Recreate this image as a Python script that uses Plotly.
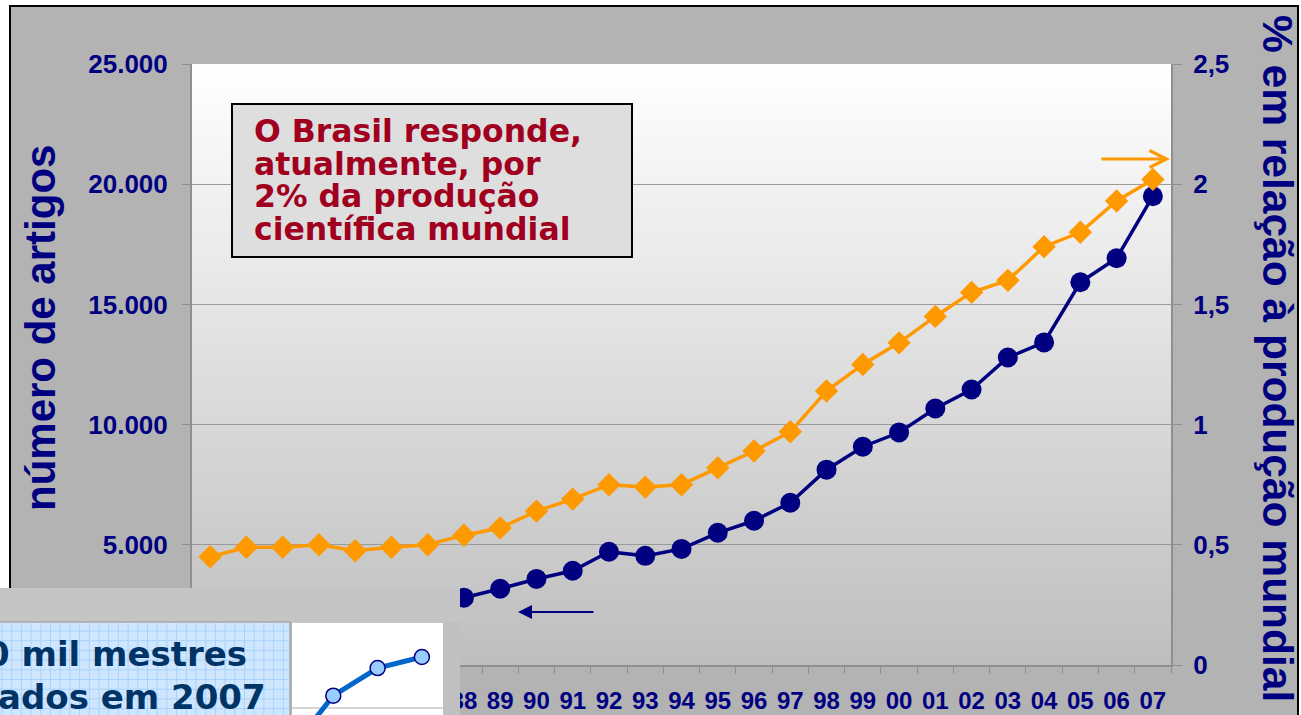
import plotly.graph_objects as go

# ---------------- data ----------------
years = ['81', '82', '83', '84', '85', '86', '87', '88', '89', '90', '91', '92', '93', '94',
         '95', '96', '97', '98', '99', '00', '01', '02', '03', '04', '05', '06', '07']
artigos = [1900, 2000, 2100, 2200, 2300, 2450, 2600, 2800, 3170, 3580, 3920, 4710, 4540, 4830,
           5500, 6000, 6750, 8125, 9080, 9670, 10670, 11460, 12790, 13420, 15920, 16920, 19500]
percentual = [0.45, 0.49, 0.49, 0.50, 0.475, 0.49, 0.50, 0.54, 0.57, 0.64, 0.69, 0.75, 0.74, 0.75,
              0.82, 0.89, 0.97, 1.14, 1.25, 1.34, 1.45, 1.55, 1.60, 1.74, 1.80, 1.93, 2.02]
left_ticks = [0, 5000, 10000, 15000, 20000, 25000]
right_ticks = [0, 0.5, 1, 1.5, 2, 2.5]

inset_x = [0, 1, 2, 3]
inset_y = [16.0, 22.1, 25.1, 26.3]

box_lines = ["O Brasil responde,", "atualmente, por", "2% da produção", "científica mundial"]
inset_lines = ["0 mil mestres", "ados em 2007"]

# ---------------- helpers ----------------
W, H = 1301, 715
def px(x):
    return x / W
def py(y):
    return 1 - y / H

NAVY = "#000080"
ORANGE = "#ff9900"

fig = go.Figure()

fig.add_trace(go.Scatter(
    x=years, y=artigos, mode="lines+markers", yaxis="y", xaxis="x",
    line=dict(color=NAVY, width=3.5),
    marker=dict(symbol="circle", size=20, color=NAVY),
    showlegend=False, hoverinfo="skip"))

fig.add_trace(go.Scatter(
    x=years, y=percentual, mode="lines+markers", yaxis="y2", xaxis="x",
    line=dict(color=ORANGE, width=3.5),
    marker=dict(symbol="diamond", size=18, color=ORANGE),
    showlegend=False, hoverinfo="skip"))

fig.add_trace(go.Scatter(
    x=inset_x, y=inset_y, mode="lines+markers", xaxis="x3", yaxis="y3",
    line=dict(color="#0066cc", width=5),
    marker=dict(symbol="circle", size=15, color="#99ccff", line=dict(color=NAVY, width=1.5)),
    showlegend=False, hoverinfo="skip"))

shapes = []
# outer gray panel with black border
shapes.append(dict(type="rect", xref="paper", yref="paper", layer="below",
                   x0=px(10), x1=px(1298), y0=py(745), y1=py(6),
                   fillcolor="#b3b3b3", line=dict(color="black", width=2)))
# gradient plot background
top, bot = 64, 665
N = 100
for i in range(N):
    ya = top + (bot - top) * i / N
    yb = top + (bot - top) * (i + 1) / N + 0.8
    t = (i + 0.5) / N
    g = int(round(255 - (255 - 190) * t))
    shapes.append(dict(type="rect", xref="paper", yref="paper", layer="below",
                       x0=px(192), x1=px(1171), y0=py(min(yb, bot)), y1=py(ya),
                       fillcolor=f"rgb({g},{g},{g})", line=dict(width=0)))
# text box
shapes.append(dict(type="rect", xref="paper", yref="paper", layer="above",
                   x0=px(232), x1=px(632), y0=py(257), y1=py(104),
                   fillcolor="#dedede", line=dict(color="black", width=2)))
# inset overlay (lower-left)
shapes.append(dict(type="rect", xref="paper", yref="paper", layer="above",
                   x0=px(-5), x1=px(460), y0=py(623), y1=py(588),
                   fillcolor="#c4c4c4", line=dict(width=0)))
shapes.append(dict(type="rect", xref="paper", yref="paper", layer="above",
                   x0=px(443), x1=px(460), y0=py(720), y1=py(622),
                   fillcolor="#c0c0c0", line=dict(width=0)))
shapes.append(dict(type="rect", xref="paper", yref="paper", layer="above",
                   x0=px(289), x1=px(292), y0=py(720), y1=py(622),
                   fillcolor="#b4b4b4", line=dict(width=0)))
shapes.append(dict(type="rect", xref="paper", yref="paper", layer="above",
                   x0=px(-5), x1=px(290), y0=py(720), y1=py(622),
                   fillcolor="#cfe6ff", line=dict(color="#a8a8a8", width=1.5)))
# grid of the blue box
path = ""
gx = 2.0
while gx < 289:
    path += f"M{px(gx):.5f},{py(623):.5f}L{px(gx):.5f},{py(715):.5f}"
    gx += 9.7
gy = 631.0
while gy < 715:
    path += f"M{px(0):.5f},{py(gy):.5f}L{px(289):.5f},{py(gy):.5f}"
    gy += 9.7
shapes.append(dict(type="path", xref="paper", yref="paper", layer="above",
                   path=path, line=dict(color="#a9d2fb", width=1)))

annotations = []
# axis titles
annotations.append(dict(xref="paper", yref="paper", x=px(40), y=py(328),
                        xanchor="center", yanchor="middle",
                        text="<b>número de artigos</b>", textangle=-90, showarrow=False,
                        font=dict(family="Liberation Sans", size=42, color=NAVY)))
annotations.append(dict(xref="paper", yref="paper", x=px(1278), y=py(358),
                        xanchor="center", yanchor="middle",
                        text="<b>% em relação à produção mundial</b>", textangle=90, showarrow=False,
                        font=dict(family="Liberation Sans", size=42.5, color=NAVY)))
# text box lines
for i, line in enumerate(box_lines):
    annotations.append(dict(xref="paper", yref="paper", x=px(252), y=py(131 + 32.7 * i),
                            xanchor="left", yanchor="middle", showarrow=False,
                            text=f"<b>{line}</b>",
                            font=dict(family="DejaVu Sans", size=31.5, color="#a0001e")))
# inset text
annotations.append(dict(xref="paper", yref="paper", x=px(249), y=py(654), xanchor="right",
                        yanchor="middle", showarrow=False, text=f"<b>{inset_lines[0]}</b>",
                        font=dict(family="DejaVu Sans", size=34, color="#003366")))
annotations.append(dict(xref="paper", yref="paper", x=px(268), y=py(697), xanchor="right",
                        yanchor="middle", showarrow=False, text=f"<b>{inset_lines[1]}</b>",
                        font=dict(family="DejaVu Sans", size=34, color="#003366")))
# arrows
annotations.append(dict(xref="paper", yref="paper", x=px(1170), y=py(159), ax=-70, ay=0,
                        text="", showarrow=True, arrowhead=5, arrowsize=1.1, arrowwidth=3,
                        arrowcolor=ORANGE, standoff=0))
annotations.append(dict(xref="paper", yref="paper", x=px(518), y=py(612), ax=77, ay=0,
                        text="", showarrow=True, arrowhead=2, arrowsize=1.4, arrowwidth=2,
                        arrowcolor=NAVY, standoff=0))

tickfont_y = dict(family="Liberation Sans", size=26, color=NAVY, weight="bold")
tickfont_x = dict(family="Liberation Sans", size=24, color=NAVY, weight="bold")

fig.update_layout(
    template="none",
    width=W, height=H,
    margin=dict(l=0, r=0, t=0, b=0, pad=0),
    paper_bgcolor="white",
    plot_bgcolor="white",
    separators=",.",
    showlegend=False,
    xaxis=dict(domain=[px(192), px(1171)], type="category", categoryorder="array",
               categoryarray=years, range=[-0.5, 26.5], anchor="y",
               showline=True, linecolor="#8f8f8f", linewidth=2, showgrid=False, zeroline=False,
               ticks="outside", tickson="boundaries", ticklen=7, tickcolor="#8f8f8f", tickwidth=1,
               tickangle=0, tickfont=tickfont_x, ticklabelstandoff=13, automargin=False),
    yaxis=dict(domain=[py(665), py(64)], range=[0, 25000], tickvals=left_ticks,
               tickformat=",d", anchor="x",
               showline=True, linecolor="#8f8f8f", linewidth=2,
               showgrid=True, gridcolor="#9a9a9a", gridwidth=1, zeroline=False,
               ticks="outside", ticklen=8, tickcolor="#8f8f8f",
               tickfont=tickfont_y, ticklabelstandoff=9, automargin=False),
    yaxis2=dict(overlaying="y", side="right", anchor="x", range=[0, 2.5], tickvals=right_ticks,
                showline=True, linecolor="#8f8f8f", linewidth=2,
                showgrid=False, zeroline=False,
                ticks="outside", ticklen=9, tickcolor="#8f8f8f",
                tickfont=tickfont_y, ticklabelstandoff=6, automargin=False),
    xaxis3=dict(domain=[px(292), px(443)], anchor="y3", range=[0.068, 3.476],
                showgrid=False, zeroline=False, showline=False, showticklabels=False,
                ticks="", automargin=False),
    yaxis3=dict(domain=[0, py(623)], anchor="x3", range=[20, 30], tickvals=[20.75],
                showgrid=True, gridcolor="#d6d6d6", gridwidth=2, zeroline=False,
                showline=False, showticklabels=False, ticks="", automargin=False),
    shapes=shapes,
    annotations=annotations,
)

fig.write_html("out.html", config={"displayModeBar": False},
               post_script="document.body.style.margin='0';document.body.style.overflow='hidden';")
